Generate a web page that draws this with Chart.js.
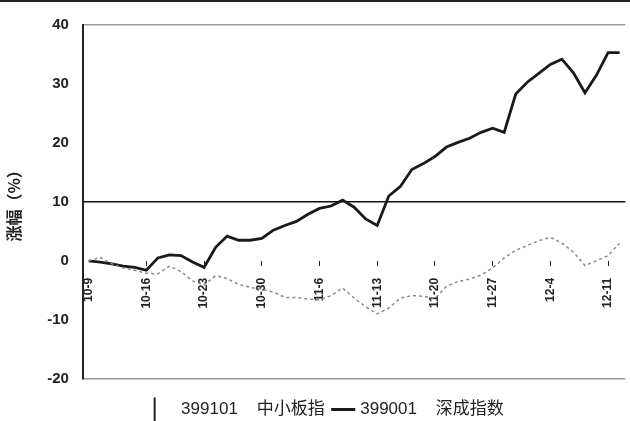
<!DOCTYPE html>
<html lang="zh">
<head>
  <meta charset="UTF-8" />
  <title>中小板指 / 深成指数 涨幅</title>
  <script src="https://cdn.jsdelivr.net/npm/chart.js@4.4.1/dist/chart.umd.min.js"></script>
  <style>
    html, body { margin: 0; padding: 0; background: #fff; overflow: hidden; }
    #wrap { width: 630px; height: 421px; position: relative; overflow: hidden; border-top: 2px solid #222; box-sizing: border-box; }
  </style>
</head>
<body>
  <div id="wrap"><canvas id="chart"></canvas></div>

  <script>
  // trading days, 2009-10-09 .. 2009-12-14
  const dates = [
    '10-9',
    '10-12', '10-13', '10-14', '10-15', '10-16',
    '10-19', '10-20', '10-21', '10-22', '10-23',
    '10-26', '10-27', '10-28', '10-29', '10-30',
    '11-2', '11-3', '11-4', '11-5', '11-6',
    '11-9', '11-10', '11-11', '11-12', '11-13',
    '11-16', '11-17', '11-18', '11-19', '11-20',
    '11-23', '11-24', '11-25', '11-26', '11-27',
    '11-30', '12-1', '12-2', '12-3', '12-4',
    '12-7', '12-8', '12-9', '12-10', '12-11',
    '12-14'
  ];

  // 399101 中小板指 (dotted)
  const sme = [
    0, 0.6, -0.5, -1.2, -1.6, -2.1,
    -2.2, -0.9, -1.8, -3.4, -4.1,
    -2.5, -3.0, -4.0, -4.5, -4.8,
    -5.3, -6.2, -6.2, -6.5, -6.6,
    -5.9, -4.6, -6.3, -7.8, -9.0,
    -8.0, -6.3, -5.9, -6.0, -6.4,
    -4.3, -3.5, -3.1, -2.4, -1.2,
    0.5, 1.8, 2.6, 3.4, 4.0,
    3.0, 1.5, -0.8, 0.0, 0.9,
    3.0
  ];

  // 399001 深成指数 (solid)
  const szc = [
    0, -0.2, -0.5, -0.9, -1.1, -1.6,
    0.5, 1.0, 0.9, -0.2, -1.1,
    2.3, 4.2, 3.5, 3.5, 3.8,
    5.2, 6.0, 6.7, 7.9, 8.9,
    9.3, 10.3, 9.1, 7.1, 6.0,
    11.0, 12.6, 15.5, 16.5, 17.7,
    19.3, 20.1, 20.8, 21.8, 22.5,
    21.8, 28.3, 30.3, 31.8, 33.3,
    34.2, 31.9, 28.5, 31.5, 35.3,
    35.3
  ];

  const yTicks = [-20, -10, 0, 10, 20, 30, 40];

  // the original picture is cut off on the right, so the canvas runs a bit past the frame
  const canvas = document.getElementById('chart');
  canvas.width = 646; canvas.height = 419;

  new Chart(canvas, {
    type: 'line',
    data: {
      labels: dates,
      datasets: [
        {
          label: '  399101    中小板指',
          data: sme,
          borderColor: '#8a8a8a',
          borderWidth: 1.5,
          borderDash: [3, 3],
          pointRadius: 0,
          pointStyle: 'line',
          pointRotation: 90,
          pointBorderColor: '#222',
          pointBorderWidth: 2,
          tension: 0
        },
        {
          label: '399001    深成指数',
          data: szc,
          borderColor: '#1a1a1a',
          borderWidth: 2.8,
          pointRadius: 0,
          pointStyle: 'line',
          pointBorderColor: '#1a1a1a',
          pointBorderWidth: 3,
          tension: 0
        }
      ]
    },
    options: {
      responsive: false,
      animation: false,
      layout: { padding: { top: 23, right: 0, left: 4, bottom: -7 } },
      plugins: {
        tooltip: { enabled: false },
        legend: {
          position: 'bottom',
          title: { display: true, text: '', padding: { top: 11, bottom: 0 }, font: { size: 1 } },
          labels: {
            color: '#222',
            font: { family: '"Liberation Sans", "Noto Sans CJK SC"', size: 17 },
            usePointStyle: true,
            boxHeight: 20,
            padding: 10
          }
        }
      },
      scales: {
        x: {
          type: 'category',
          position: { y: 0 },
          offset: true,
          border: { display: false },
          grid: {
            drawOnChartArea: false,
            drawTicks: true,
            tickLength: 5,
            color: c => (c.index % 5 === 0 && c.index > 0) ? '#222' : 'transparent'
          },
          ticks: {
            autoSkip: false,
            maxRotation: 90,
            minRotation: 90,
            padding: 12,
            color: '#222',
            font: { family: '"Liberation Sans"', size: 12, weight: 'bold' },
            callback: (v, i) => i % 5 === 0 ? dates[i] : ''
          }
        },
        y: {
          min: -20,
          max: 40,
          afterBuildTicks: s => { s.ticks = yTicks.map(v => ({ value: v })); },
          border: { display: true, color: '#222', width: 2 },
          grid: {
            drawTicks: false,
            color: c => c.tick.value === 10 ? '#111' : (c.tick.value === 40 || c.tick.value === -20) ? '#999' : 'transparent',
            lineWidth: 1.5
          },
          ticks: {
            padding: 14,
            color: '#222',
            font: { family: '"Liberation Sans"', size: 15, weight: 'bold' }
          },
          title: {
            display: true,
            text: '涨幅（%）',
            color: '#222',
            padding: { top: 0, bottom: 10 },
            font: { family: '"Noto Sans CJK SC"', size: 16, weight: 'bold' }
          }
        }
      }
    }
  });
  </script>
</body>
</html>
